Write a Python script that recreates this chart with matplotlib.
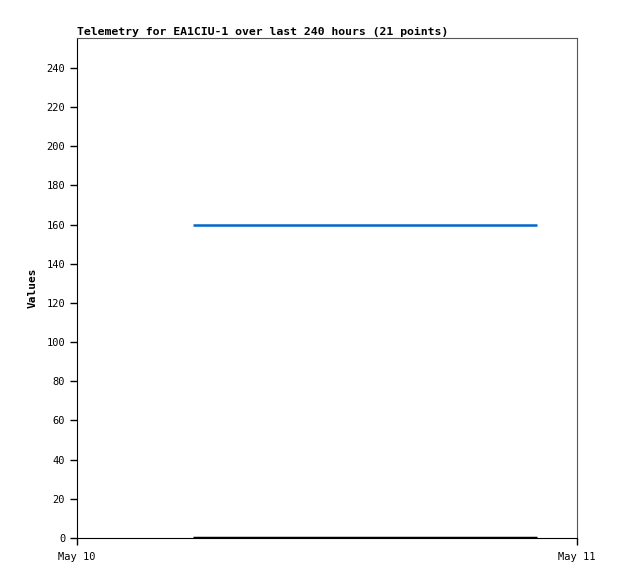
import matplotlib
matplotlib.use("Agg")
import matplotlib.pyplot as plt
import numpy as np

# Data: hours after May 10 00:00 for the 21 telemetry points
hours = [5.57, 6.40, 7.25, 8.05, 8.90, 9.70, 10.55, 11.35, 12.20, 13.00,
         13.85, 14.65, 15.50, 16.30, 17.15, 17.95, 18.80, 19.60, 20.45, 21.25, 22.08]
series_blue = [160] * 21
series_black = [0] * 21
x_ticks = [0, 24]
x_labels = ["May 10", "May 11"]
y_ticks = list(range(0, 241, 20))
title = "Telemetry for EA1CIU-1 over last 240 hours (21 points)"

plt.rcParams['font.family'] = ['DejaVu Sans Mono']

fig = plt.figure(figsize=(6.18, 5.79), dpi=100)
ax = fig.add_axes([77/618, 1-538/579, 500/618, 500/579])

ax.plot(hours, series_blue, color="#0066cc", linewidth=1.8, solid_capstyle='butt')
ax.plot(hours, series_black, color="#000000", linewidth=2.5, solid_capstyle='butt')

ax.set_xlim(0, 24)
ax.set_ylim(0, 255.3)
ax.set_xticks(x_ticks)
ax.set_xticklabels(x_labels)
ax.set_yticks(y_ticks)
ax.tick_params(axis='both', direction='out', length=5, width=1, labelsize=7.5, colors='black')
ax.tick_params(axis='x', pad=5)
ax.set_ylabel("Values", fontsize=8, fontweight='bold', labelpad=6)
ax.set_title(title, fontsize=8.25, fontweight='bold', loc='left', pad=2)

for s in ['left', 'bottom']:
    ax.spines[s].set_color('black')
for s in ['top', 'right']:
    ax.spines[s].set_color('#555555')

fig.savefig("out.png", dpi=100)
